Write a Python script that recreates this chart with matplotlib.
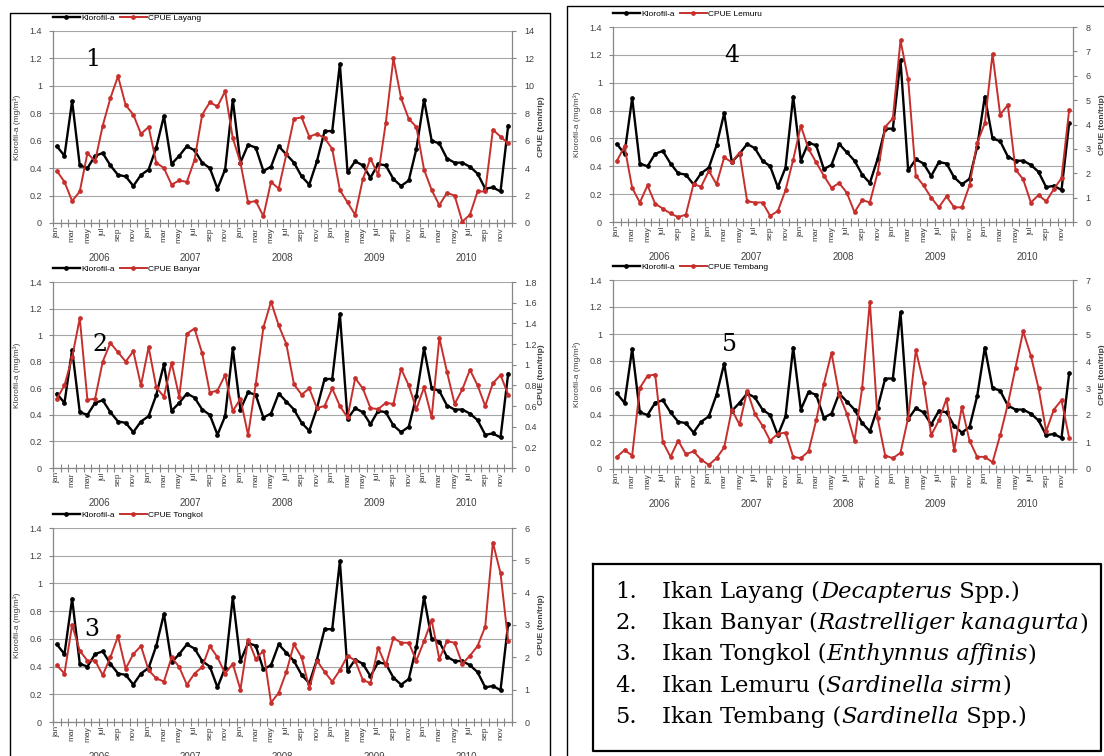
import numpy as np
import matplotlib

matplotlib.use('Agg')
import matplotlib.pyplot as plt
from matplotlib.lines import Line2D

W, H = 1104, 756

# months 2006-2010, one value per month
months = ['jan', 'feb', 'mar', 'apr', 'may', 'jun', 'jul', 'aug', 'sep', 'oct', 'nov', 'dec']
years = ['2006', '2007', '2008', '2009', '2010']

klorofil = [0.56, 0.49, 0.89, 0.42, 0.40, 0.49, 0.51, 0.42, 0.35, 0.34, 0.27, 0.35,
            0.39, 0.55, 0.78, 0.43, 0.49, 0.56, 0.53, 0.44, 0.40, 0.25, 0.39, 0.90,
            0.44, 0.57, 0.55, 0.38, 0.41, 0.56, 0.50, 0.44, 0.34, 0.28, 0.45, 0.67,
            0.67, 1.16, 0.37, 0.45, 0.42, 0.33, 0.43, 0.42, 0.32, 0.27, 0.31, 0.54,
            0.90, 0.60, 0.58, 0.47, 0.44, 0.44, 0.41, 0.36, 0.25, 0.26, 0.23, 0.71]

cpue_layang = [3.8, 3.0, 1.6, 2.3, 5.1, 4.5, 7.1, 9.1, 10.7, 8.6, 7.9, 6.5,
               7.0, 4.4, 4.0, 2.8, 3.1, 3.0, 4.6, 7.9, 8.8, 8.5, 9.6, 6.2,
               4.4, 1.5, 1.6, 0.5, 3.0, 2.5, 5.0, 7.6, 7.7, 6.3, 6.5, 6.2,
               5.4, 2.4, 1.5, 0.6, 3.2, 4.7, 3.5, 7.3, 12.0, 9.1, 7.6, 7.0,
               3.9, 2.4, 1.3, 2.2, 2.0, 0.1, 0.6, 2.3, 2.3, 6.8, 6.3, 5.8]

cpue_banyar = [0.67, 0.80, 1.07, 1.45, 0.66, 0.67, 1.03, 1.21, 1.12, 1.03, 1.13, 0.80,
               1.17, 0.78, 0.69, 1.02, 0.69, 1.30, 1.35, 1.11, 0.73, 0.75, 0.90, 0.55,
               0.67, 0.32, 0.81, 1.36, 1.61, 1.38, 1.20, 0.81, 0.71, 0.77, 0.58, 0.60,
               0.77, 0.60, 0.49, 0.87, 0.77, 0.58, 0.57, 0.63, 0.62, 0.96, 0.80, 0.57,
               0.78, 0.49, 1.26, 0.93, 0.62, 0.76, 0.95, 0.80, 0.60, 0.82, 0.90, 0.71]

cpue_tongkol = [1.75, 1.5, 3.0, 2.2, 1.9, 1.9, 1.45, 2.0, 2.65, 1.65, 2.1, 2.35,
                1.6, 1.35, 1.25, 2.0, 1.7, 1.15, 1.5, 1.7, 2.35, 2.0, 1.5, 1.8,
                1.0, 2.55, 1.95, 2.2, 0.6, 0.9, 1.55, 2.4, 2.0, 1.05, 1.9, 1.55,
                1.25, 1.6, 2.05, 1.9, 1.3, 1.2, 2.3, 1.75, 2.6, 2.45, 2.45, 1.9,
                2.5, 3.15, 1.95, 2.5, 2.45, 1.8, 2.05, 2.35, 2.95, 5.55, 4.6, 2.5]

cpue_lemuru = [2.5, 3.1, 1.4, 0.8, 1.5, 0.75, 0.55, 0.35, 0.2, 0.3, 1.55, 1.45,
               2.1, 1.55, 2.65, 2.45, 2.85, 0.85, 0.8, 0.8, 0.25, 0.45, 1.3, 2.55,
               3.95, 3.0, 2.45, 1.9, 1.4, 1.6, 1.2, 0.4, 0.9, 0.8, 2.0, 3.9,
               4.25, 7.45, 5.85, 1.9, 1.5, 1.0, 0.6, 1.05, 0.6, 0.6, 1.5, 3.25,
               4.05, 6.9, 4.4, 4.8, 2.15, 1.75, 0.8, 1.1, 0.85, 1.35, 1.8, 4.6]

cpue_tembang = [0.45, 0.7, 0.5, 3.0, 3.45, 3.5, 1.0, 0.45, 1.05, 0.55, 0.65, 0.35,
                0.15, 0.4, 0.8, 2.2, 1.65, 2.9, 2.05, 1.6, 1.05, 1.3, 1.35, 0.45,
                0.4, 0.65, 1.8, 3.15, 4.3, 2.75, 2.05, 1.05, 3.0, 6.2, 1.9, 0.5,
                0.4, 0.6, 1.9, 4.4, 3.2, 1.25, 1.8, 2.6, 0.7, 2.3, 1.05, 0.45,
                0.45, 0.25, 1.25, 2.4, 3.75, 5.1, 4.2, 3.0, 1.4, 2.2, 2.55, 1.15]

fish_names = ['Layang', 'Banyar', 'Tongkol', 'Lemuru', 'Tembang']
cpue_series = [cpue_layang, cpue_banyar, cpue_tongkol, cpue_lemuru, cpue_tembang]
cpue_max = [14, 1.8, 6, 8, 7]
cpue_step = [2, 0.2, 1, 1, 1]

species_list = [
    ('1.', 'Ikan Layang (', 'Decapterus', ' Spp.)'),
    ('2.', 'Ikan Banyar (', 'Rastrelliger kanagurta', ')'),
    ('3.', 'Ikan Tongkol (', 'Enthynnus affinis', ')'),
    ('4.', 'Ikan Lemuru (', 'Sardinella sirm', ')'),
    ('5.', 'Ikan Tembang (', 'Sardinella', ' Spp.)'),
]

# panel boxes in pixels: left, top, right, bottom
panel_px = [(53, 31, 512, 223), (53, 282, 512, 468), (53, 528, 512, 722),
            (613, 27, 1073, 222), (613, 280, 1073, 469)]
number_px = [(93, 60), (100, 345), (92, 630), (732, 55), (730, 345)]

RED = '#c62f2c'
AXC = '#868686'
TXC = '#404040'
SANS = 'Liberation Sans'

fig = plt.figure(figsize=(W / 100, H / 100), dpi=100)


def px_rect(x0, y0, x1, y1):
    return [x0 / W, 1 - y1 / H, (x1 - x0) / W, (y1 - y0) / H]


def draw_panel(i):
    x0, y0, x1, y1 = panel_px[i]
    axw, axh = x1 - x0, y1 - y0
    ax = fig.add_axes(px_rect(x0, y0, x1, y1))
    ax2 = ax.twinx()
    n = len(klorofil)
    x = np.arange(n)

    l1, = ax.plot(x, klorofil, color='black', lw=1.7, marker='o', ms=2.4, zorder=3)
    l2, = ax2.plot(x, cpue_series[i], color=RED, lw=1.4, marker='o', ms=2.4)

    ax.set_xlim(-0.5, n - 0.5)
    ax.set_ylim(0, 1.4)
    lt = np.round(np.arange(0, 1.41, 0.2), 1)
    ax.set_yticks(lt)
    ax.set_yticklabels(['%g' % v for v in lt])
    ax.grid(axis='y', color='#a6a6a6', lw=0.8)
    ax.set_axisbelow(True)

    rt = np.round(np.arange(0, cpue_max[i] + 1e-6, cpue_step[i]), 1)
    ax2.set_ylim(0, cpue_max[i])
    ax2.set_yticks(rt)
    ax2.set_yticklabels(['%g' % v for v in rt])

    ax.set_xticks(np.arange(0, n, 2))
    ax.set_xticklabels([months[k % 12] for k in range(0, n, 2)], rotation=90)
    ax.set_xticks(np.arange(-0.5, n, 1), minor=True)
    ax.tick_params(axis='x', which='major', length=0, pad=3, labelsize=6, labelcolor=TXC)
    ax.tick_params(axis='x', which='minor', direction='inout', length=6, color=AXC, width=0.8)
    ax.tick_params(axis='y', length=3, color=AXC, labelsize=6.5, labelcolor=TXC, pad=5)
    ax2.tick_params(axis='y', length=3, color=AXC, labelsize=6.5, labelcolor=TXC, pad=6)

    ax.spines['top'].set_visible(False)
    ax2.spines['top'].set_visible(False)
    ax.spines['right'].set_visible(False)
    ax2.spines['left'].set_visible(False)
    ax2.spines['bottom'].set_visible(False)
    for sp in [ax.spines['left'], ax.spines['bottom'], ax2.spines['right']]:
        sp.set_color(AXC)
        sp.set_linewidth(0.9)

    for k, yr in enumerate(years):
        ax.annotate(yr, xy=(12 * k + 5.5, 0), xycoords=('data', 'axes fraction'),
                    xytext=(0, -25), textcoords='offset points', ha='center', va='center',
                    fontsize=7, color=TXC, family=SANS)

    ax.set_ylabel('Klorofil-a (mg/m³)', fontsize=6, color=TXC, family=SANS)
    ax.yaxis.set_label_coords(-32 / axw, 0.5)
    ax2.set_ylabel('CPUE (ton/trip)', fontsize=6, color=TXC, family=SANS, fontweight='bold',
                   rotation=90)
    ax2.yaxis.set_label_coords((axw + 26) / axw, 0.5)

    ax.legend([l1, l2], ['Klorofil-a', 'CPUE ' + fish_names[i]], loc='lower left',
              bbox_to_anchor=(0, 1 + 9 / axh), ncol=2, frameon=False, borderpad=0,
              borderaxespad=0, handlelength=3.2, handletextpad=0.2, columnspacing=0.6,
              prop={'family': SANS, 'size': 6})

    nx, ny = number_px[i]
    fig.text(nx / W, 1 - ny / H, str(i + 1), fontsize=17, family='DejaVu Serif',
             ha='center', va='center')

    for lab in ax.get_xticklabels() + ax.get_yticklabels() + ax2.get_yticklabels():
        lab.set_family(SANS)


for i in range(5):
    draw_panel(i)


def fig_line(xs, ys, lw=1.0):
    fig.add_artist(Line2D([v / W for v in xs], [1 - v / H for v in ys],
                          color='black', lw=lw, transform=fig.transFigure))


# frames around the two columns
fig_line([10, 10, 550, 550], [760, 13, 13, 760])
fig_line([567, 567, 1104], [760, 6, 6])

# species box
fig_line([593, 593, 1101, 1101, 593], [564, 751, 751, 564, 564], lw=1.6)
renderer = fig.canvas.get_renderer()
for j, (num, pre, ital, post) in enumerate(species_list):
    y = 1 - (592 + 31.2 * j) / H
    fig.text(615 / W, y, num, fontsize=16.3, family='DejaVu Serif', va='center')
    xp = 662
    for txt, st in [(pre, 'normal'), (ital, 'italic'), (post, 'normal')]:
        t = fig.text(xp / W, y, txt, fontsize=16.3, family='DejaVu Serif', style=st,
                     va='center', ha='left')
        xp += t.get_window_extent(renderer).width

fig.savefig('out.png', dpi=100)
